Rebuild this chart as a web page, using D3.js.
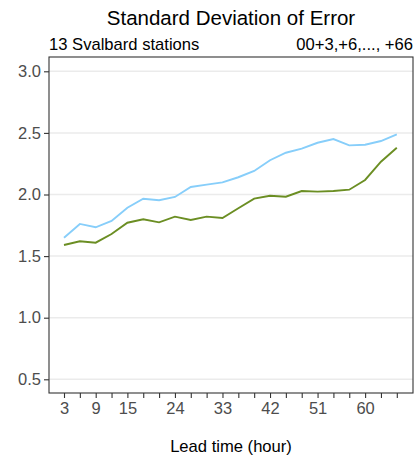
<!DOCTYPE html>
<html><head><meta charset="utf-8">
<script src="https://cdn.jsdelivr.net/npm/d3@7/dist/d3.min.js"></script>
<style>body{margin:0;background:#fff}svg{display:block}text{font-family:"Liberation Sans",Arial,Helvetica,sans-serif}</style>
</head><body>
<script>
const leadTimes = [3,6,9,12,15,18,21,24,27,30,33,36,39,42,45,48,51,54,57,60,63,66];
const seriesBlue = [1.649,1.761,1.734,1.785,1.893,1.966,1.953,1.980,2.061,2.080,2.098,2.140,2.191,2.278,2.339,2.372,2.420,2.450,2.399,2.404,2.434,2.489];
const seriesGreen = [1.590,1.620,1.609,1.679,1.771,1.799,1.774,1.820,1.793,1.820,1.809,1.888,1.966,1.990,1.982,2.028,2.023,2.028,2.039,2.118,2.266,2.380];
const yTicks = [0.5,1.0,1.5,2.0,2.5,3.0];
const xTickLabels = [3,9,15,24,33,42,51,60];
const xTickMarks = leadTimes;

const W=416,H=460;
const pL=49,pR=413,pT=57,pB=393;
const svg=d3.select("body").append("svg").attr("width",W).attr("height",H);
const x=d3.scaleLinear().domain([3,66]).range([64,396.8]);
const y=d3.scaleLinear().domain([0.5,3.0]).range([379.3,71.3]);

// grid
svg.append("g").selectAll("line").data(yTicks).join("line")
  .attr("x1",pL).attr("x2",pR).attr("y1",d=>y(d)).attr("y2",d=>y(d))
  .attr("stroke","#ebebeb").attr("stroke-width",1.5);

const line=d3.line().x((d,i)=>x(leadTimes[i])).y(d=>y(d));
svg.append("path").datum(seriesBlue).attr("d",line).attr("fill","none").attr("stroke","#87CEFA").attr("stroke-width",1.9);
svg.append("path").datum(seriesGreen).attr("d",line).attr("fill","none").attr("stroke","#6B8E23").attr("stroke-width",1.9);

// panel border
svg.append("rect").attr("x",pL).attr("y",pT).attr("width",pR-pL).attr("height",pB-pT)
  .attr("fill","none").attr("stroke","#333333").attr("stroke-width",1.1);

// y axis
const ya=d3.axisLeft(y).tickValues(yTicks).tickFormat(d3.format(".1f")).tickSize(5).tickPadding(3);
const gy=svg.append("g").attr("transform",`translate(${pL},0)`).call(ya);
gy.select(".domain").remove();
gy.selectAll(".tick line").attr("stroke","#333333").attr("stroke-width",1.1);
gy.selectAll(".tick text").attr("fill","#4d4d4d").style("font-size","16.5px").attr("font-family",null);

// x axis
const xa=d3.axisBottom(x).tickValues(xTickMarks).tickFormat(d=>xTickLabels.includes(d)?d:"").tickSize(5).tickPadding(4);
const gx=svg.append("g").attr("transform",`translate(0,${pB})`).call(xa);
gx.select(".domain").remove();
gx.selectAll(".tick line").attr("stroke","#333333").attr("stroke-width",1.1);
gx.selectAll(".tick text").attr("fill","#4d4d4d").style("font-size","16.5px").attr("font-family",null);

svg.append("text").attr("x",(pL+pR)/2).attr("y",452).attr("text-anchor","middle").style("font-size","16.6px").attr("fill","#000").text("Lead time (hour)");
svg.append("text").attr("x",(pL+pR)/2).attr("y",25).attr("text-anchor","middle").style("font-size","20.5px").attr("fill","#000").text("Standard Deviation of Error");
svg.append("text").attr("x",pL).attr("y",50).style("font-size","16.6px").attr("fill","#000").text("13 Svalbard stations");
svg.append("text").attr("x",pR).attr("y",50).attr("text-anchor","end").style("font-size","16.6px").attr("fill","#000").text("00+3,+6,..., +66");
</script>
</body></html>
